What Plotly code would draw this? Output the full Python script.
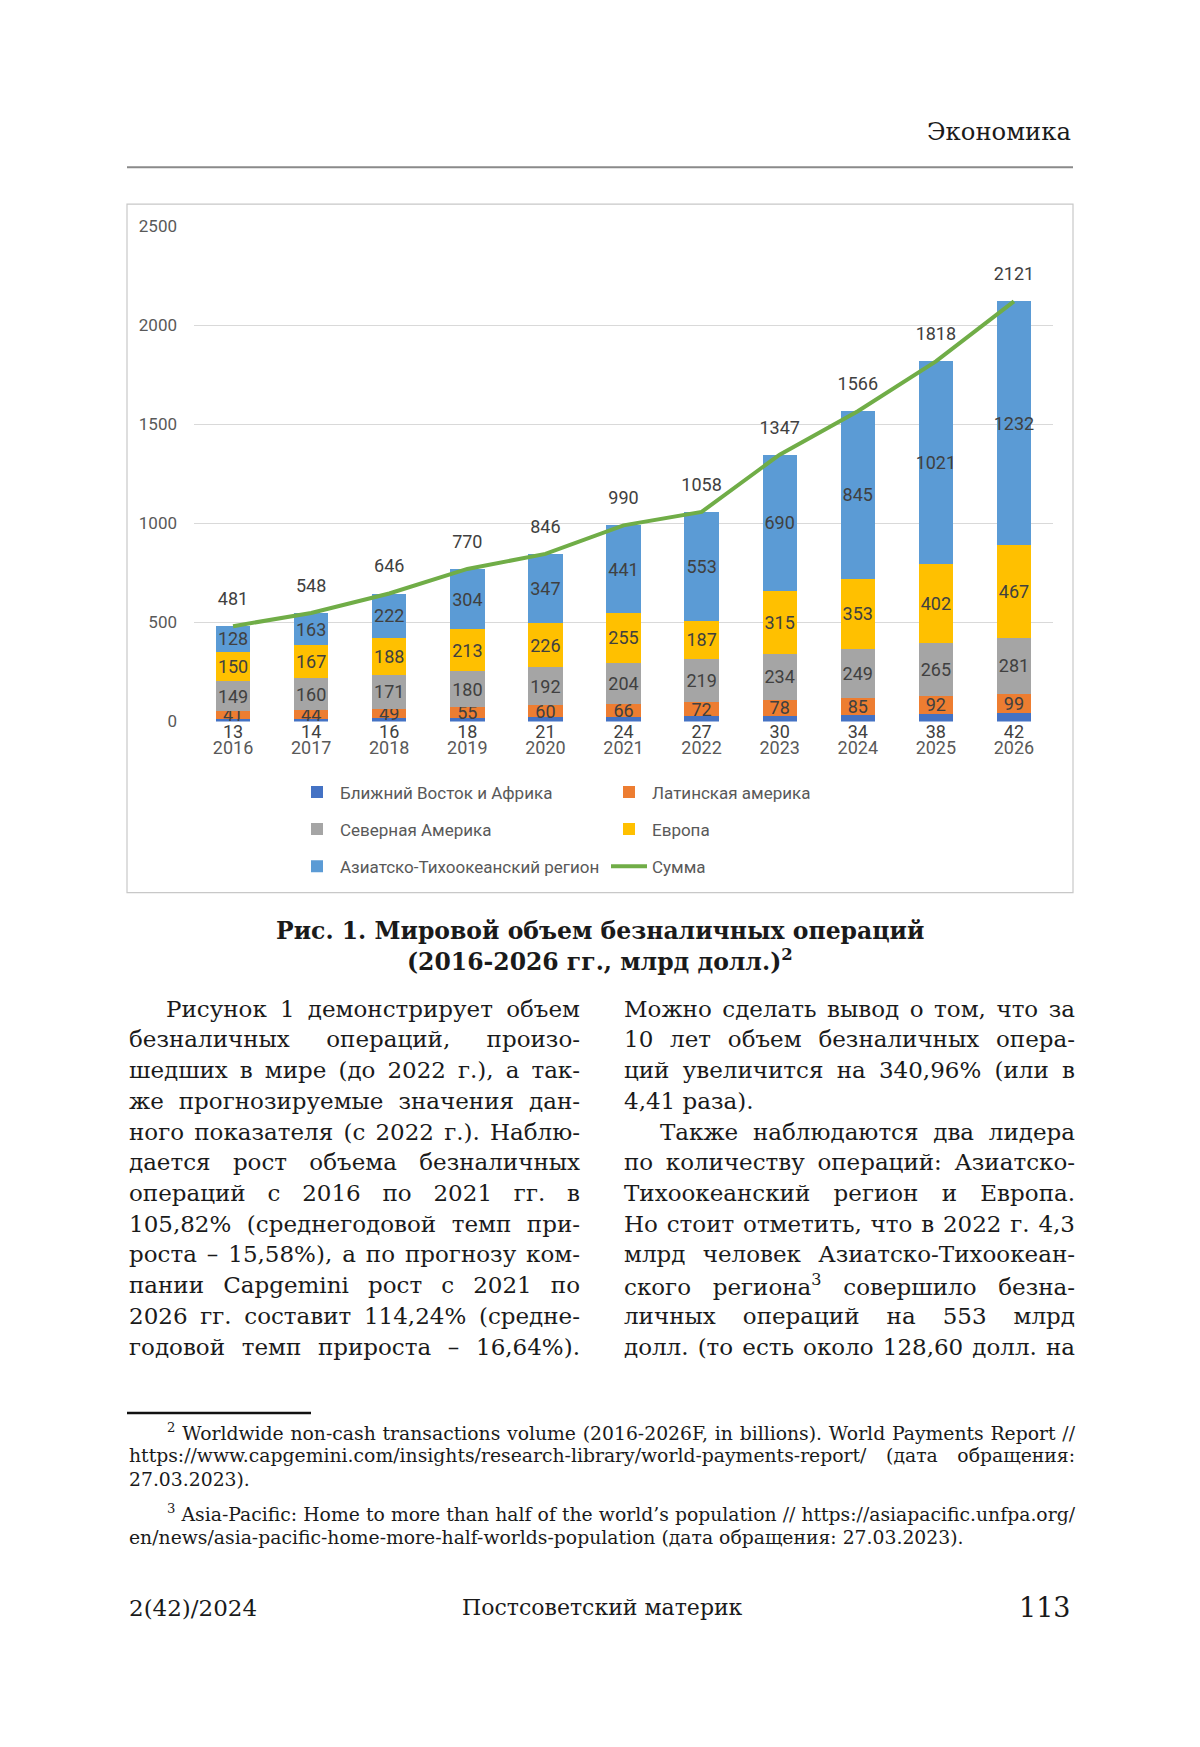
import json
import plotly.graph_objects as go

W, H = 1200, 1747

# ---------------- data ----------------
years = ["2016", "2017", "2018", "2019", "2020", "2021", "2022", "2023", "2024", "2025", "2026"]
mideast = [13, 14, 16, 18, 21, 24, 27, 30, 34, 38, 42]
latam = [41, 44, 49, 55, 60, 66, 72, 78, 85, 92, 99]
namerica = [149, 160, 171, 180, 192, 204, 219, 234, 249, 265, 281]
europe = [150, 167, 188, 213, 226, 255, 187, 315, 353, 402, 467]
apac = [128, 163, 222, 304, 347, 441, 553, 690, 845, 1021, 1232]
total = [481, 548, 646, 770, 846, 990, 1058, 1347, 1566, 1818, 2121]
y_ticks = [0, 500, 1000, 1500, 2000, 2500]

names = ["Ближний Восток и Африка", "Латинская америка", "Северная Америка",
         "Европа", "Азиатско-Тихоокеанский регион", "Сумма"]
colors = ["#4472C4", "#ED7D31", "#A5A5A5", "#FFC000", "#5B9BD5", "#70AD47"]

CF = "Liberation Sans Narrow, Roboto, Arial, sans-serif"
SF = "DejaVu Serif, Liberation Serif, serif"
LBL = "#404040"

# page-to-screenshot correction (observed vertical mapping of the render)
VS, VO = 0.988, 9.9


def px(x):
    return x / W


def py(y):
    return 1 - ((y - VO) / VS) / H


fig = go.Figure()

stack = [mideast, latam, namerica, europe, apac]
legend_of = ["legend", "legend", "legend2", "legend2", "legend3"]
for i, vals in enumerate(stack):
    fig.add_trace(go.Bar(
        x=years, y=vals, name=names[i], marker=dict(color=colors[i], line=dict(width=0)),
        text=None if i == 0 else [str(v) for v in vals],
        textposition="inside", insidetextanchor="middle", textangle=0,
        constraintext="none",
        textfont=dict(family=CF, size=18, color=LBL),
        legend=legend_of[i], hoverinfo="skip",
    ))

# Middle East labels sit just below the axis (as in the original)
fig.add_trace(go.Scatter(
    x=years, y=[0] * len(years), mode="markers+text", text=[str(v) for v in mideast],
    textposition="bottom center", marker=dict(size=4, opacity=0),
    textfont=dict(family=CF, size=18, color=LBL),
    cliponaxis=False, showlegend=False, hoverinfo="skip",
))

# Sum line
fig.add_trace(go.Scatter(
    x=years, y=total, mode="lines", name=names[5],
    line=dict(color=colors[5], width=4), legend="legend3", hoverinfo="skip",
))
fig.add_trace(go.Scatter(
    x=years, y=total, mode="markers+text", text=[str(v) for v in total],
    textposition="top center", marker=dict(size=25, opacity=0),
    textfont=dict(family=CF, size=18, color=LBL),
    cliponaxis=False, showlegend=False, hoverinfo="skip",
))

leg_common = dict(orientation="h", xanchor="left", yanchor="middle", x=px(294),
                  entrywidth=261, entrywidthmode="pixels",
                  font=dict(family=CF, size=17, color="#595959"),
                  bgcolor="rgba(0,0,0,0)", traceorder="normal", itemwidth=36)

fig.update_layout(
    width=W, height=H,
    margin=dict(l=0, r=0, t=0, b=0),
    paper_bgcolor="white", plot_bgcolor="white",
    barmode="stack", bargap=0.56,
    uniformtext=dict(minsize=18, mode="show"),
    showlegend=True,
    legend=dict(leg_common, y=py(792)),
    legend2=dict(leg_common, y=py(829)),
    legend3=dict(leg_common, y=py(866)),
    xaxis=dict(domain=[px(194), px(1053)], type="category", range=[-0.5, 10.5],
               showgrid=False, showline=False, ticks="",
               tickfont=dict(family=CF, size=18, color="#595959"),
               ticklabelstandoff=14, fixedrange=True),
    yaxis=dict(domain=[py(721), py(226)], range=[0, 2500], tickvals=y_ticks,
               showgrid=True, gridcolor="#D9D9D9", gridwidth=1.5, zeroline=False,
               showline=False, ticks="", tickfont=dict(family=CF, size=17, color="#595959"),
               ticklabelstandoff=16, fixedrange=True),
)

shapes = [
    dict(type="line", xref="paper", yref="paper", x0=px(127), x1=px(1073), y0=py(167), y1=py(167),
         line=dict(color="#8A8A8A", width=2)),
    dict(type="rect", xref="paper", yref="paper", x0=px(127), x1=px(1073), y0=py(892), y1=py(204),
         line=dict(color="#C8C8C8", width=1.2), layer="below"),
    dict(type="line", xref="paper", yref="paper", x0=px(127), x1=px(311), y0=py(1412), y1=py(1412),
         line=dict(color="#111111", width=2.5)),
]

ann = []
justify = []  # [annotation index, target width in px]


def txt(x, y, s, size, anchor="left", bold=False, color="#1A1A1A", width=None):
    if width is not None:
        justify.append([len(ann), width])
    ann.append(dict(xref="paper", yref="paper", x=px(x), y=py(y), text=("<b>%s</b>" % s) if bold else s,
                    showarrow=False, xanchor=anchor, yanchor="middle", align=anchor if anchor != "center" else "center",
                    font=dict(family=SF, size=size, color=color)))


txt(1073, 131, "Экономика", 24.3, "right")

txt(600, 930, "Рис. 1. Мировой объем безналичных операций", 23.5, "center", True)
txt(600, 960, "(2016-2026 гг., млрд долл.)<sup>2</sup>", 23.5, "center", True)

left_lines = [
    "Рисунок 1 демонстрирует объем",
    "безналичных операций, произо-",
    "шедших в мире (до 2022 г.), а так-",
    "же прогнозируемые значения дан-",
    "ного показателя (с 2022 г.). Наблю-",
    "дается рост объема безналичных",
    "операций с 2016 по 2021 гг. в",
    "105,82% (среднегодовой темп при-",
    "роста – 15,58%), а по прогнозу ком-",
    "пании Capgemini рост с 2021 по",
    "2026 гг. составит 114,24% (средне-",
    "годовой темп прироста – 16,64%).",
]
right_lines = [
    "Можно сделать вывод о том, что за",
    "10 лет объем безналичных опера-",
    "ций увеличится на 340,96% (или в",
    "4,41 раза).",
    "Также наблюдаются два лидера",
    "по количеству операций: Азиатско-",
    "Тихоокеанский регион и Европа.",
    "Но стоит отметить, что в 2022 г. 4,3",
    "млрд человек Азиатско-Тихоокеан-",
    "ского региона<sup>3</sup> совершило безна-",
    "личных операций на 553 млрд",
    "долл. (то есть около 128,60 долл. на",
]
y0 = 1008
step = 30.7
BS = 23
for i, s in enumerate(left_lines):
    x = 164 if i == 0 else 127
    txt(x, y0 + i * step, s, BS, width=578 - x)
for i, s in enumerate(right_lines):
    x = 658 if i == 4 else 622
    txt(x, y0 + i * step, s, BS, width=None if i == 3 else 1073 - x)

foot = [
    (165, 1431, "<sup>2</sup> Worldwide non-cash transactions volume (2016-2026F, in billions). World Payments Report //", True),
    (127, 1455, "https://www.capgemini.com/insights/research-library/world-payments-report/ (дата обращения:", True),
    (127, 1479, "27.03.2023).", False),
    (165, 1512, "<sup>3</sup> Asia-Pacific: Home to more than half of the world’s population // https://asiapacific.unfpa.org/", True),
    (127, 1537, "en/news/asia-pacific-home-more-half-worlds-population (дата обращения: 27.03.2023).", False),
]
for x, y, s, j in foot:
    txt(x, y, s, 18.8, width=(1073 - x) if j else None)

txt(127, 1607, "2(42)/2024", 23)
txt(603, 1607, "Постсоветский материк", 22, "center")
txt(1073, 1607, "113", 27, "right")

fig.update_layout(shapes=shapes, annotations=ann)

post = """
document.body.style.margin='0';document.body.style.overflow='hidden';
var gd = document.getElementById('{plot_id}');
var J = %s;
J.forEach(function(p){
  var t = gd.querySelector('g.annotation[data-index="' + p[0] + '"] text.annotation-text');
  if (!t) return;
  var len = t.getComputedTextLength();
  var n = (t.textContent.match(/[ \\u00a0]/g) || []).length;
  if (n > 0 && len < p[1]) { t.style.wordSpacing = ((p[1] - len) / n) + 'px'; }
});
""" % json.dumps(justify)

fig.write_html("out.html", config={"staticPlot": True}, post_script=post)
